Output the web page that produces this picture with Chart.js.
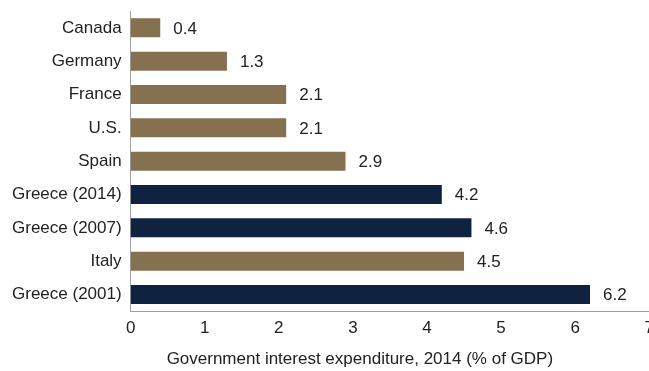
<!DOCTYPE html>
<html>
<head>
<meta charset="utf-8">
<script src="https://cdn.jsdelivr.net/npm/chart.js@4"></script>
<style>
  html, body { margin: 0; padding: 0; background: #fff; overflow: hidden; }
  #wrap { width: 661px; height: 380px; margin-top: -8px; }
</style>
</head>
<body>
<div id="wrap"><canvas id="chart1"></canvas></div>
<script>
const countries = ['Canada', 'Germany', 'France', 'U.S.', 'Spain', 'Greece (2014)', 'Greece (2007)', 'Italy', 'Greece (2001)'];
const interest = [0.4, 1.3, 2.1, 2.1, 2.9, 4.2, 4.6, 4.5, 6.2];
const isGreece = [false, false, false, false, false, true, true, false, true];
const xTicks = [0, 1, 2, 3, 4, 5, 6, 7];
const xTitle = 'Government interest expenditure, 2014 (% of GDP)';

const BROWN = '#85704f';
const NAVY = '#0f2340';
const FONT = { family: '"Liberation Sans", Arial, sans-serif', size: 17 };

// value labels next to bars, plus the x title set a little left of the plot centre
const barLabels = {
    id: 'barLabels',
    afterDatasetsDraw(chart) {
        const c = chart.ctx;
        const meta = chart.getDatasetMeta(0);
        c.save();
        c.font = FONT.size + 'px ' + FONT.family;
        c.fillStyle = '#222';
        c.textAlign = 'left';
        c.textBaseline = 'middle';
        meta.data.forEach((bar, i) => {
            c.fillText(interest[i].toFixed(1), bar.x + 13, bar.y + 1);
        });
        const xs = chart.scales.x;
        c.textAlign = 'center';
        c.fillText(xTitle, xs.left + (xs.right - xs.left) * 0.442, xs.bottom - FONT.size * 0.6);
        c.restore();
    }
};

const ctx = document.getElementById('chart1').getContext('2d');
const chart1 = new Chart(ctx, {
    type: 'bar',
    data: {
        labels: countries,
        datasets: [{
            data: interest,
            backgroundColor: isGreece.map(g => g ? NAVY : BROWN),
            categoryPercentage: 1,
            barPercentage: 0.57
        }]
    },
    options: {
        indexAxis: 'y',
        responsive: true,
        maintainAspectRatio: false,
        animation: false,
        layout: { padding: { left: 3, top: 5, right: 0, bottom: 2 } },
        scales: {
            x: {
                min: 0,
                max: 7,
                afterBuildTicks: axis => { axis.ticks = xTicks.map(v => ({ value: v })); },
                grid: { display: false, drawTicks: false },
                border: { display: true, color: '#a0a0a0', width: 1 },
                ticks: { color: '#222', font: FONT, padding: 7, maxRotation: 0 },
                title: {
                    // reserves the room; the text itself is drawn by barLabels
                    display: true,
                    text: xTitle,
                    color: 'rgba(0,0,0,0)',
                    font: FONT,
                    padding: { top: 4, bottom: 0 }
                }
            },
            y: {
                grid: { display: false, drawTicks: false },
                border: { display: true, color: '#a0a0a0', width: 1 },
                ticks: { color: '#222', font: FONT, padding: 9 }
            }
        },
        plugins: {
            legend: { display: false },
            tooltip: { enabled: false }
        }
    },
    plugins: [barLabels]
});
</script>
</body>
</html>
